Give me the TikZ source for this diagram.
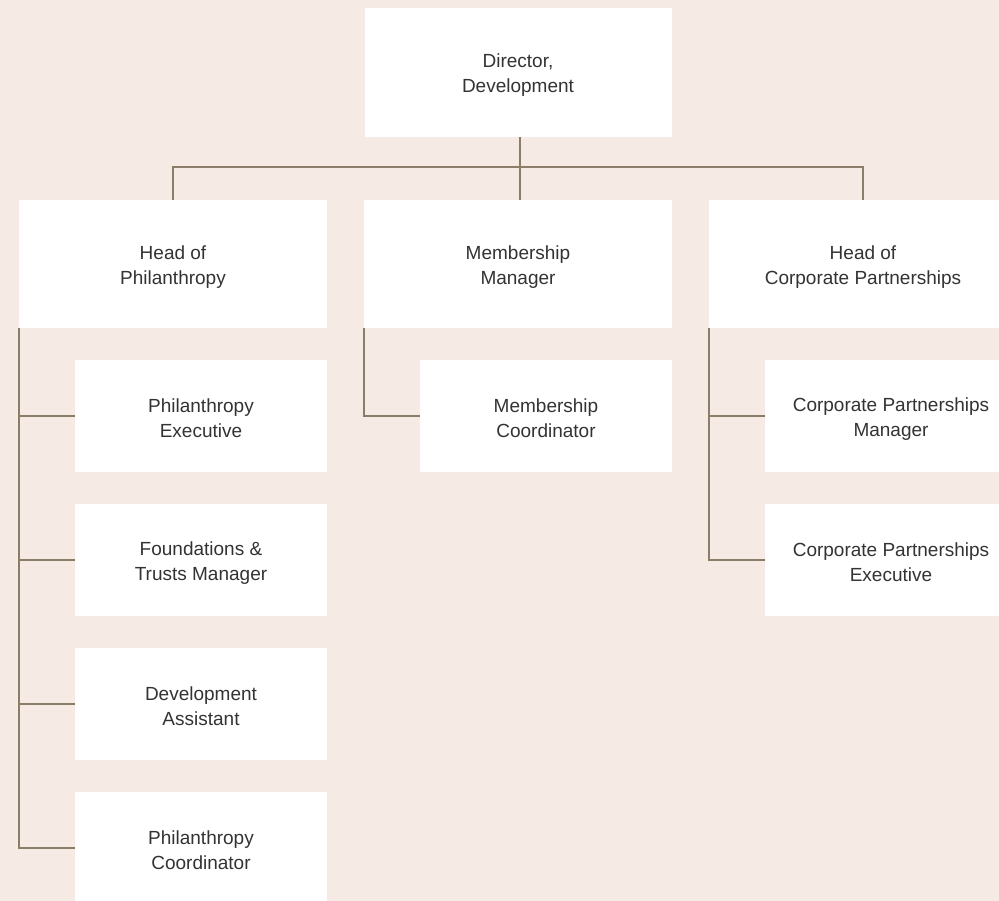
\documentclass[tikz,border=0pt]{standalone}
\usepackage{fontspec}
\setmainfont{Liberation Sans}
\usepackage{xcolor}
\definecolor{paper}{HTML}{F5EAE4}
\definecolor{rule}{HTML}{8C7D68}
\definecolor{ink}{HTML}{333333}
\tikzset{
    post/.style={
        fill=white,
        draw=none,
        inner sep=0mm,
        outer sep=0mm,
        align=center,
        text=ink,
        text height=44,
        font=\fontsize{19}{25}\selectfont
    },
    head/.style={post,minimum width=308,minimum height=128},
    staff/.style={post,minimum width=252,minimum height=112},
    link/.style={draw=rule,line width=1.3}
}

\begin{document}
\begin{tikzpicture}[x=1pt,y=-1pt]
        \fill[paper] (0,0) rectangle (999,901);
        \useasboundingbox (0,0) rectangle (999,901);
        \clip (0,0) rectangle (999,901);
        % top
        \node[post,minimum width=307,minimum height=129] (dir) at (518,72.5) {Director,\\Development};
        % heads
        \node[head] (phil) at (173,264) {Head of\\Philanthropy};
        \node[head] (mem) at (518,264) {Membership\\Manager};
        \node[head] (corp) at (863,264) {Head of\\Corporate Partnerships};
        % philanthropy team
        \node[staff] (pexec) at (201,416) {Philanthropy\\Executive};
        \node[staff] (trusts) at (201,560) {Foundations \&\\Trusts Manager};
        \node[staff] (assist) at (201,704) {Development\\Assistant};
        \node[staff] (pcoord) at (201,848) {Philanthropy\\Coordinator};
        % membership team
        \node[staff] (mcoord) at (546,416) {Membership\\Coordinator};
        % corporate team
        \node[staff] (cman) at (891,416) {Corporate Partnerships\\Manager};
        \node[staff] (cexec) at (891,560) {Corporate Partnerships\\Executive};
        % links
        \draw[link] (dir.south) ++(2,0) -- ++(0,63);
        \draw[link] (phil.north) -- ++(0,-33) -| (corp.north);
        \draw[link] (phil.south west) |- (pcoord.west);
        \foreach \n in {pexec,trusts,assist}
            \draw[link] (phil.south west |- \n.west) -- (\n.west);
        \draw[link] (mem.south west) |- (mcoord.west);
        \draw[link] (corp.south west) |- (cexec.west);
        \draw[link] (corp.south west |- cman.west) -- (cman.west);
    \end{tikzpicture}
\end{document}
